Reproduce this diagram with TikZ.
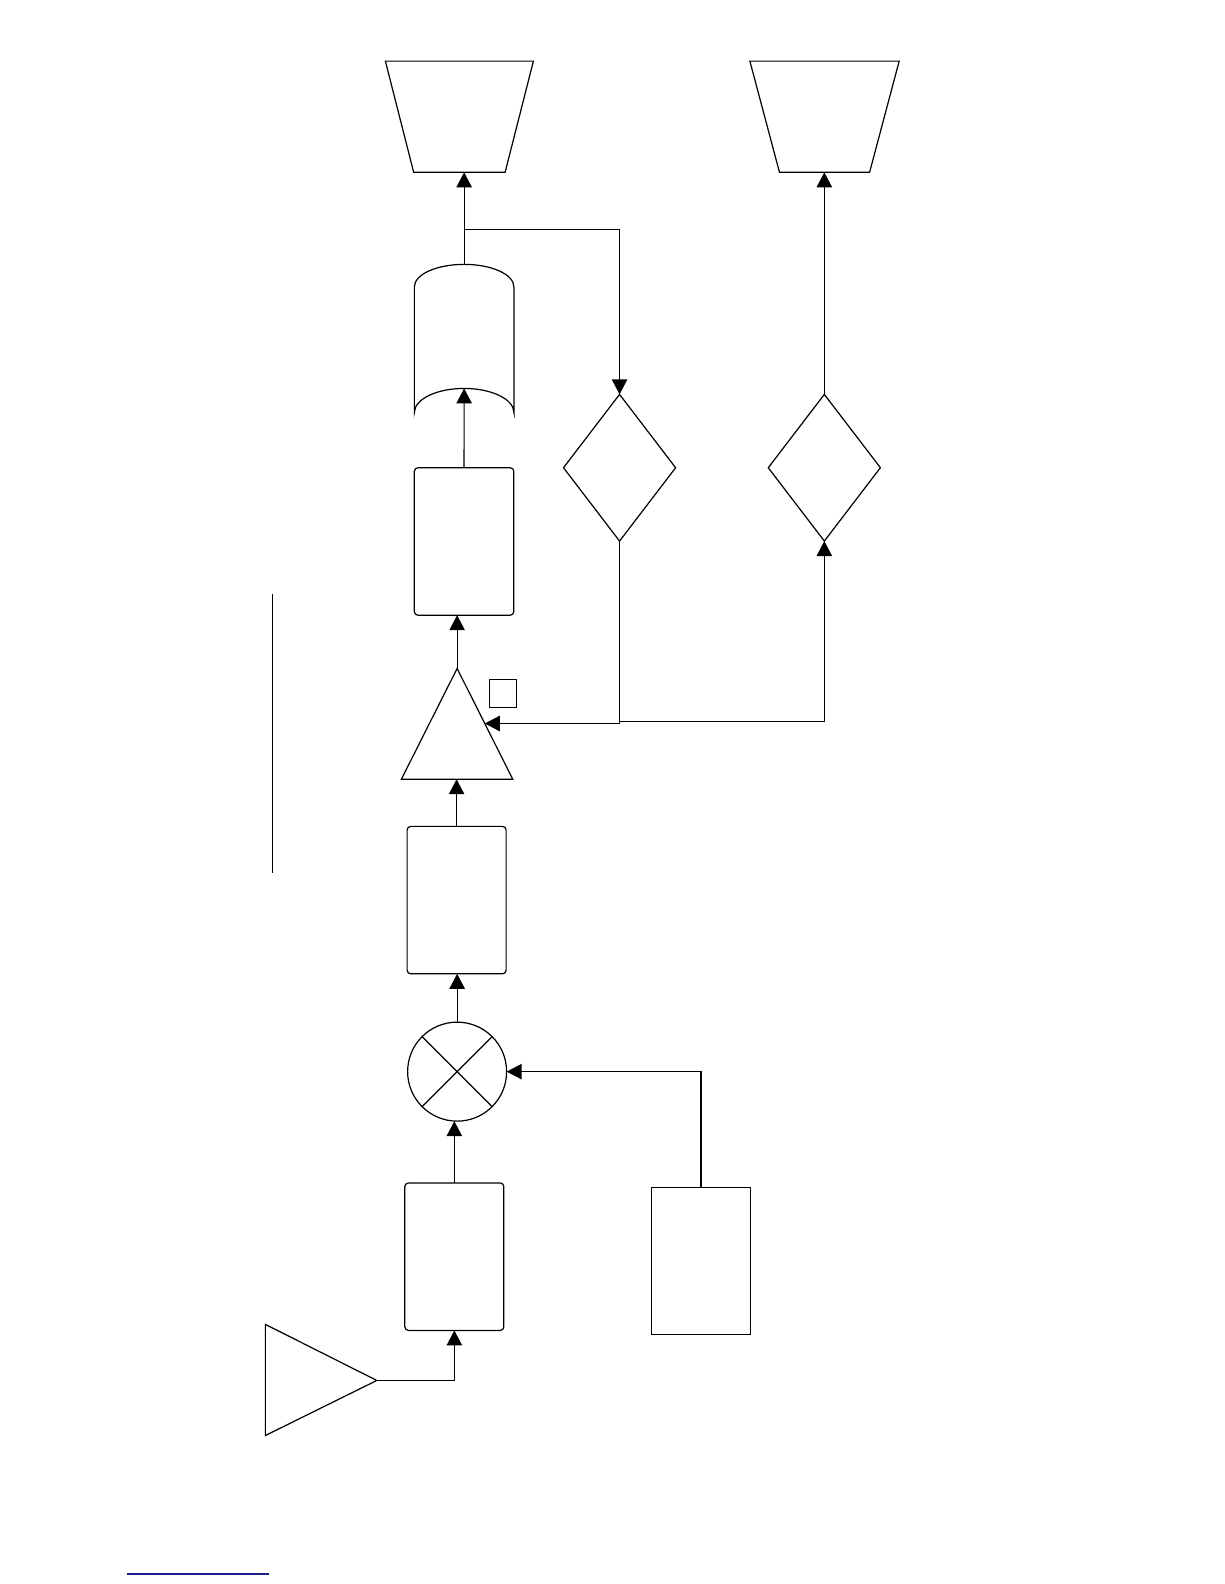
\documentclass[tikz,border=0pt]{standalone}
\usetikzlibrary{arrows.meta,shapes.geometric}
\definecolor{linkblue}{RGB}{30,30,140}
\begin{document}
\begin{tikzpicture}[x=0.5pt,y=-0.5pt,
  line width=0.6pt,
  box/.style={draw, rounded corners=1.8pt, minimum width=49pt, minimum height=73pt, inner sep=0pt, outer sep=0pt},
  plainbox/.style={draw, minimum width=49pt, minimum height=72.6pt, inner sep=0pt, outer sep=0pt},
  decision/.style={draw, diamond, minimum width=55.5pt, minimum height=72.6pt, inner sep=0pt, outer sep=0pt},
  mixer/.style={draw, circle, minimum size=49pt, inner sep=0pt, outer sep=0pt},
  link/.style={-{Triangle[length=7.4pt,width=7.6pt]}}]
\useasboundingbox (0,0) rectangle (1212,1568);

% blocks
\node[box] (r1) at (449.75,1244) {};
\node[box] (r2) at (452,891) {};
\node[box, minimum width=49.25pt] (r3) at (459.4,536) {};
\node[plainbox] (r5) at (694,1248.4) {};
\node[mixer] (mx) at (452.5,1060.8) {};
\draw (mx.45) -- (mx.225) (mx.135) -- (mx.315);
\node[decision] (d1) at (613.3,463) {};
\node[decision] (d2) at (816,463) {};
\node[draw, minimum size=13.6pt, inner sep=0pt, outer sep=0pt] (sq) at (498,686.5) {};

% amplifier triangle (pointing up)
\draw (452.5,661.7) -- (507.6,771.4) -- (397.3,771.4) -- cycle;
\coordinate (ampTop) at (452.5,661.7);
\coordinate (ampBase) at (452.5,771.4);
\coordinate (ampIn) at (479.9,716.2);

% input triangle (pointing right)
\draw (262.7,1311) -- (373,1366.5) -- (262.7,1421) -- cycle;
\coordinate (src) at (373,1366.5);

% storage (cylinder-like)
\draw (508.7,283.9) -- (508.7,408.3)
  arc[start angle=0, end angle=180, x radius=24.625pt, y radius=11.9pt]
  -- (410.2,283.9)
  arc[start angle=180, end angle=0, x radius=24.625pt, y radius=11.1pt];
\coordinate (cylTop) at (459.45,261.7);
\coordinate (cylBot) at (459.45,384.5);

% trapezoids
\draw (381.5,60.5) -- (528,60.5) -- (500,170.6) -- (409.5,170.6) -- cycle;
\coordinate (t1) at (459.45,170.6);
\draw (742.3,60.5) -- (890.1,60.5) -- (860.8,170.6) -- (771.6,170.6) -- cycle;
\coordinate (t2) at (816,170.6);

% connectors
\draw[link] (src) -| (r1.south);
\draw[link] (r1.north) -- (r1.north |- mx.south);
\draw[link] (mx.north) -- (mx.north |- r2.south);
\draw[link] (r5.north) |- (mx.east);
\draw[link] (r2.north) -- (r2.north |- ampBase);
\draw[link] (ampTop) -- (ampTop |- r3.south);
\draw[link] (r3.north) -- (cylBot);
\draw[link] (cylTop) -- (t1);
\coordinate (br) at (459.45,227);
\draw[link] (br) -| (d1.north);
\draw[link] (d1.south) |- (ampIn);
\coordinate (fb) at (613.3,714);
\draw[link] (fb) -| (d2.south);
\draw[link] (d2.north) -- (t2);

% loose lines
\draw (270,588) -- (270,864);
\draw[linkblue, line width=0.8pt] (126,1558) -- (266,1558);
\end{tikzpicture}
\end{document}
